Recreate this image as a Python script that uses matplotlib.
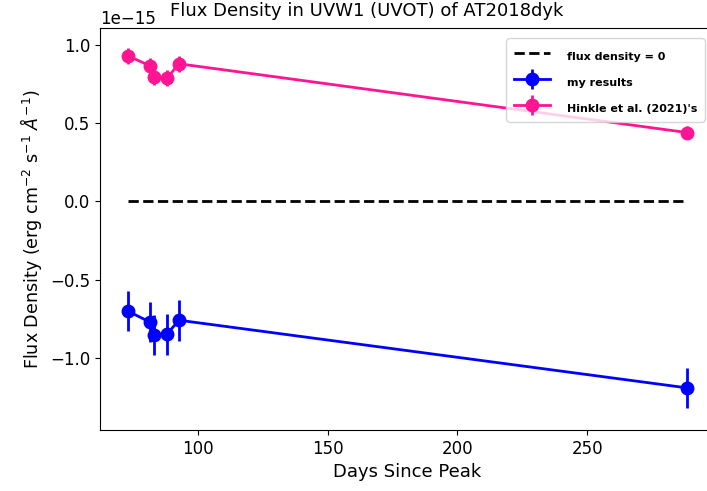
import numpy as np
import matplotlib.pyplot as plt

# days since peak
days = [73.1, 81.5, 83.0, 88.1, 92.7, 288.5]

# my results (flux density, erg cm^-2 s^-1 A^-1)
my_flux = [-0.70e-15, -0.77e-15, -0.853e-15, -0.848e-15, -0.758e-15, -1.19e-15]
my_err = [0.13e-15, 0.13e-15, 0.13e-15, 0.13e-15, 0.13e-15, 0.13e-15]

# Hinkle et al. (2021)
hk_flux = [0.93e-15, 0.866e-15, 0.796e-15, 0.786e-15, 0.879e-15, 0.44e-15]
hk_err = [0.05e-15, 0.05e-15, 0.05e-15, 0.05e-15, 0.05e-15, 0.04e-15]

fig = plt.figure(figsize=(7.07, 4.91), dpi=100)
ax = fig.add_axes([0.1414, 0.1242, 0.87, 0.819])

ax.plot([days[0], days[-1]], [0, 0], 'k--', lw=2, label='flux density = 0')
ax.errorbar(days, my_flux, yerr=my_err, fmt='o-', color='blue', ms=9, lw=2,
            elinewidth=2, label='my results')
ax.errorbar(days, hk_flux, yerr=hk_err, fmt='o-', color='deeppink', ms=9, lw=2,
            elinewidth=2, label="Hinkle et al. (2021)'s")

ax.set_xlim(62.3, 299.3)
ax.set_ylim(-1.459e-15, 1.108e-15)
ax.tick_params(labelsize=12)
ax.yaxis.get_offset_text().set_fontsize(12)
ax.set_xlabel('Days Since Peak', fontsize=13)
ax.set_ylabel(r'Flux Density (erg cm$^{-2}$ s$^{-1}$ $\AA^{-1}$)', fontsize=12.6)
fig.text(367 / 707, 1 - 11 / 491, 'Flux Density in UVW1 (UVOT) of AT2018dyk',
         ha='center', va='center', fontsize=13)

# legend laid out at a larger size, then texts shrunk
leg = ax.legend(loc='upper right', fontsize=14.5, handlelength=1.8)
for t in leg.get_texts():
    t.set_fontsize(8)
    t.set_fontweight('bold')

fig.savefig('out.png', dpi=100)
